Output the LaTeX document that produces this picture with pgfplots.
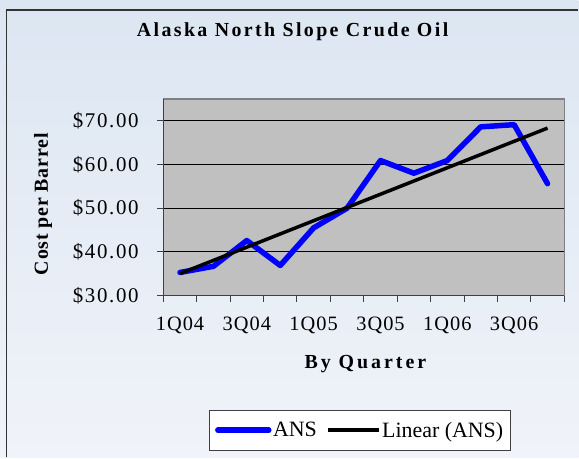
\documentclass[border=0pt]{standalone}
\usepackage{fontspec}
\setmainfont{Liberation Serif}
\usepackage{pgfplots}
\pgfplotsset{compat=1.18}
\definecolor{plotgray}{HTML}{C0C0C0}
\definecolor{bgtop}{HTML}{DCE6F2}
\definecolor{bgbot}{HTML}{F0F3F9}
\definecolor{ansblue}{HTML}{0000FF}
\definecolor{framegray}{HTML}{808080}
\begin{document}
\begin{tikzpicture}
\shade[top color=bgtop,bottom color=bgbot] (0bp,0bp) rectangle (579bp,458bp);
\draw[line width=1.5bp, color=black!80] (6.5bp,0bp) -- (6.5bp,448bp) -- (579bp,448bp);
\begin{axis}[
  at={(163.5bp,162bp)}, anchor=south west,
  scale only axis, width=401.5bp, height=197bp,
  xmin=0.5, xmax=12.5, ymin=30, ymax=75,
  axis background/.style={fill=plotgray, draw=framegray, line width=1.5bp},
  axis x line*=bottom, axis y line*=left,
  axis line style={-, draw=black!75, line width=1bp},
  tick align=outside, major tick length=6bp,
  every tick/.style={black!75, line width=1bp},
  xtick={0.5,1.5,...,12.5}, xticklabels={},
  extra x ticks={1,3,5,7,9,11},
  extra x tick labels={1Q04,3Q04,1Q05,3Q05,1Q06,3Q06},
  extra x tick style={major tick length=0pt,
     xticklabel style={anchor=base, yshift=-35bp, inner sep=0pt,
       font=\fontsize{20.5}{20.5}\selectfont\addfontfeatures{LetterSpace=5}}},
  ytick={30,40,50,60,70},
  yticklabels={\$30.00,\$40.00,\$50.00,\$60.00,\$70.00},
  yticklabel style={anchor=east, inner sep=0pt, xshift=-18.5bp,
     font=\fontsize{21}{21}\selectfont\addfontfeatures{LetterSpace=8}},
  ymajorgrids, major grid style={black, line width=0.8bp},
  title={Alaska North Slope Crude Oil},
  title style={at={(axis description cs:0.3225,1.289)}, anchor=base, inner sep=0pt,
     font=\fontsize{20}{20}\selectfont\bfseries\addfontfeatures{LetterSpace=12}},
  xlabel={By Quarter},
  xlabel style={at={(axis description cs:0.504,-0.350)}, anchor=center, inner sep=0pt,
     font=\fontsize{20}{20}\selectfont\bfseries\addfontfeatures{LetterSpace=15}},
  ylabel={Cost per Barrel},
  ylabel style={at={(axis description cs:-0.300,0.4645)}, anchor=center, inner sep=0pt,
     font=\fontsize{20}{20}\selectfont\bfseries\addfontfeatures{LetterSpace=4}},
  legend columns=2,
  legend style={at={(axis description cs:0.1133,-0.7868)}, anchor=south west,
     draw=black!75, fill=white, line width=0.8bp,
     font=\fontsize{22}{22}\selectfont,
     inner xsep=6bp, inner ysep=5.5bp,
     nodes={inner xsep=1.5bp, inner ysep=6bp},
     /tikz/every even column/.append style={column sep=8bp}},
  legend image code/.code={\draw[#1] (0bp,0bp) -- (51bp,0bp);},
]
\addplot[ansblue, line width=5.5bp, line join=round, line cap=round] coordinates {
  (1,35.3) (2,36.7) (3,42.6) (4,36.9) (5,45.5) (6,50.0)
  (7,60.9) (8,58.0) (9,60.9) (10,68.6) (11,69.1) (12,55.6)
};
\addlegendentry{ANS}
\addplot[black, line width=3.5bp] coordinates {(1,35.03) (12,68.32)};
\addlegendentry{Linear (ANS)}
\end{axis}
\end{tikzpicture}
\end{document}
